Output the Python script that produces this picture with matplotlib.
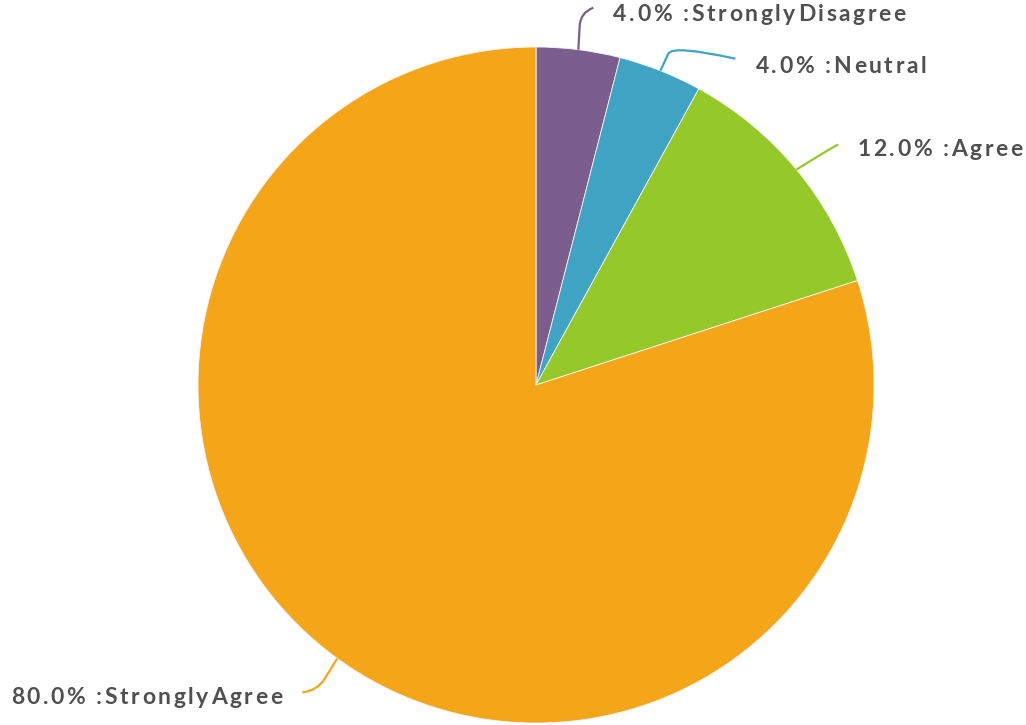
import numpy as np
import matplotlib.pyplot as plt
from matplotlib.path import Path
from matplotlib.patches import PathPatch
from matplotlib.font_manager import FontProperties

# Survey answers, drawn clockwise from 12 o'clock
categories = ["Strongly Disagree", "Neutral", "Agree", "Strongly Agree"]
shares = [4.0, 4.0, 12.0, 80.0]
label_texts = ["4.0% :StronglyDisagree", "4.0% :Neutral", "12.0% :Agree", "80.0% :StronglyAgree"]
colors = ["#7B5E8E", "#3FA4C4", "#95C92A", "#F5A618"]

W, H = 1026, 725
fig = plt.figure(figsize=(W / 100, H / 100), dpi=100)
ax = fig.add_axes([0, 0, 1, 1])

cx, cy, rad = 536, H - 385, 338
wedges, _ = ax.pie(shares, colors=colors, startangle=90, counterclock=False,
                   center=(cx, cy), radius=rad, frame=True,
                   wedgeprops=dict(linewidth=0.6, edgecolor="#f4f4f4"))
ax.set_xlim(0, W)
ax.set_ylim(0, H)
ax.set_aspect("equal")
ax.axis("off")

# leader line shapes (pixel offsets from the wedge's edge midpoint): elbow, end, label anchor
leaders = [
    dict(elbow=(2, 37), end=(15, 42), label=(35, 35), ha="left"),
    dict(elbow=(12, 26), end=(75, 12), label=(95, 4), ha="left"),
    dict(elbow=(39, 24), end=(42, 25), label=(61, 20), ha="left"),
    dict(elbow=(-20, -32), end=(-35, -34), label=(-55, -39), ha="right"),
]

fp = FontProperties(family=["Lato", "DejaVu Sans"], weight="bold", size=16.5)
text_color = "#505050"
spacing = 2.6
renderer = fig.canvas.get_renderer()


def text_width(s):
    w_x, _, _ = renderer.get_text_width_height_descent("x", fp, ismath=False)
    w, _, _ = renderer.get_text_width_height_descent(s + "x", fp, ismath=False)
    return w - w_x


def spaced_text(x, y, s, ha):
    total = text_width(s) + spacing * (len(s) - 1)
    x0 = x if ha == "left" else x - total
    for i, ch in enumerate(s):
        if ch == " ":
            continue
        ax.text(x0 + text_width(s[:i]) + i * spacing, y, ch, fontproperties=fp,
                color=text_color, ha="left", va="center")


angle = 90.0
for share, txt, col, ld in zip(shares, label_texts, colors, leaders):
    span = share / 100 * 360
    mid = np.deg2rad(angle - span / 2)
    angle -= span
    sx = cx + rad * np.cos(mid)
    sy = cy + rad * np.sin(mid)
    ex, ey = sx + ld["elbow"][0], sy + ld["elbow"][1]
    tx, ty = sx + ld["end"][0], sy + ld["end"][1]
    # straight run, then a rounded turn into the end point
    px = ex - 0.35 * (ex - sx)
    py = ey - 0.35 * (ey - sy)
    path = Path([(sx, sy), (px, py), (ex, ey), (tx, ty)],
                [Path.MOVETO, Path.LINETO, Path.CURVE3, Path.CURVE3])
    ax.add_patch(PathPatch(path, facecolor="none", edgecolor=col, linewidth=1.6))
    spaced_text(sx + ld["label"][0], sy + ld["label"][1], txt, ld["ha"])

fig.savefig("out.png", dpi=100, facecolor="white")
